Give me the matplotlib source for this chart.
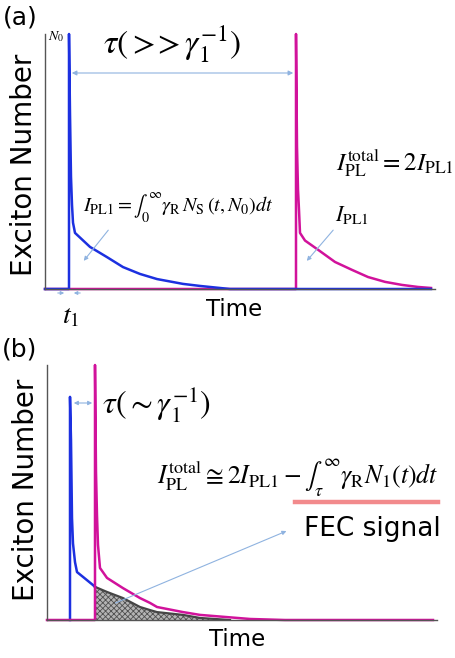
import matplotlib.pyplot as plt
import numpy as np

plt.rcParams["mathtext.fontset"] = "stix"
plt.rcParams["font.family"] = ["DejaVu Sans"]
plt.rcParams["hatch.linewidth"] = 0.6

W, H = 456, 658

# time in arbitrary units (0 = axis origin), exciton number normalised to N0 = 1
t_end = 386

# panel (a): second pulse long after the first one
a_blue_t0 = 24
a_blue_dt = [0, 0, 1, 2, 3, 4, 6, 21, 38, 54, 71, 88, 114, 131, 161]
a_blue_n = [0, 1.0, 0.69, 0.44, 0.33, 0.26, 0.22, 0.165, 0.125, 0.086, 0.059, 0.039, 0.02, 0.012, 0]
a_mag_t0 = 251
a_mag_dt = [0, 0, 1, 2, 3, 4, 9, 22, 39, 56, 72, 89, 106, 122, 135]
a_mag_n = [0, 1.0, 0.56, 0.39, 0.31, 0.22, 0.19, 0.154, 0.106, 0.075, 0.047, 0.028, 0.016, 0.008, 0.004]

# panel (b): second pulse within the exciton lifetime
b_blue_t0 = 23
b_blue_dt = [0, 0, 1, 2, 3, 5, 7, 13, 23, 25]
b_blue_n = [0, 0.875, 0.706, 0.40, 0.30, 0.227, 0.188, 0.169, 0.137, 0.13]
b_tail_dt = [25, 37, 53, 70, 80, 87, 113, 130, 160]
b_tail_n = [0.13, 0.11, 0.086, 0.051, 0.039, 0.031, 0.02, 0.008, 0]
b_mag_t0 = 48
b_mag_dt = [0, 0, 1, 2, 3, 5, 12, 28, 45, 55, 62, 88, 105, 155, 190]
b_mag_n = [0, 1.0, 0.58, 0.41, 0.294, 0.204, 0.165, 0.125, 0.086, 0.067, 0.051, 0.031, 0.02, 0.004, 0]

BLUE = "#1c30e0"
MAGENTA = "#d1129b"
ARROW = "#8fb3e0"


def trace(t0, dt, n, start=0, end=t_end):
    t = [start] + [t0 + d for d in dt] + [end]
    y = [0] + list(n) + [n[-1]]
    return np.array(t, float), np.array(y, float)


def px(x, y):
    return (x, H - y)


def arrow(x0, y0, x1, y1, style="-|>", ms=6):
    fig.add_artist(plt.matplotlib.patches.FancyArrowPatch(
        px(x0, y0), px(x1, y1), transform=None, arrowstyle=style,
        mutation_scale=ms, color=ARROW, lw=0.8))


def label(x, y, s, size, **kw):
    fig.text(x / W, 1 - y / H, s, fontsize=size, va="center", ha="center", **kw)


def setup(ax):
    ax.set_xlim(0, 390)
    ax.set_ylim(0, 1)
    for s in ["top", "right"]:
        ax.spines[s].set_visible(False)
    for s in ["left", "bottom"]:
        ax.spines[s].set_color("#555555")
        ax.spines[s].set_linewidth(1.0)
    ax.set_xticks([])
    ax.set_yticks([])
    ax.patch.set_alpha(0)


fig = plt.figure(figsize=(W / 100, H / 100), dpi=100)

# ---------------- (a)
ax_a = fig.add_axes([45 / W, 1 - 289 / H, 390 / W, 255 / H])
setup(ax_a)
t, y = trace(a_mag_t0, a_mag_dt, a_mag_n)
ax_a.plot(t, y, color=MAGENTA, lw=1.8, clip_on=False)
t, y = trace(a_blue_t0, a_blue_dt, a_blue_n)
ax_a.plot(t, y, color=BLUE, lw=1.8, clip_on=False)
ax_a.plot([a_mag_t0 + a_mag_dt[-1], t_end], [0, 0], color=BLUE, lw=1.8)

label(20, 18, "(a)", 18)
label(56, 37, r"$N_0$", 10)
label(172, 44, r"$\tau(>\!\!>\gamma_1^{-1})$", 24)
label(24, 165, "Exciton Number", 20, rotation=90)
label(234, 309, "Time", 16.5)
label(71, 315, r"$t_1$", 20)
label(178, 208,
      r"$I_{\rm PL1}=\int_0^{\infty}\gamma_{\rm R}\,N_{\rm S}\,(t,N_0)dt$", 14.5)
label(395, 163, r"$I_{\rm PL}^{\rm total}=2I_{\rm PL1}$", 18)
label(352, 215, r"$I_{\rm PL1}$", 16)

arrow(69, 73, 296, 73, style="<|-|>", ms=7)
arrow(110, 228, 82, 263)
arrow(335, 228, 305, 263)
arrow(55, 293, 67, 293, ms=5)
arrow(83, 293, 71, 293, ms=5)

# ---------------- (b)
ax_b = fig.add_axes([47 / W, 1 - 620 / H, 390 / W, 255 / H])
setup(ax_b)
tt = np.array([b_blue_t0 + d for d in b_tail_dt], float)
ax_b.fill_between(tt, b_tail_n, 0, facecolor="#b4b4b4", edgecolor="#505050",
                  hatch="xxxxxx", lw=0)
ax_b.plot(tt, b_tail_n, color="#454545", lw=1.6)
t, y = trace(b_blue_t0, b_blue_dt, b_blue_n)
ax_b.plot(t[1:-1], y[1:-1], color=BLUE, lw=1.8, clip_on=False)
t, y = trace(b_mag_t0, b_mag_dt, b_mag_n)
ax_b.plot(t, y, color=MAGENTA, lw=1.8, clip_on=False)

label(20, 350, "(b)", 18)
label(26, 490, "Exciton Number", 20, rotation=90)
label(237, 639, "Time", 16.5)
label(157, 405, r"$\tau(\sim\gamma_1^{-1})$", 23)
label(298, 478,
      r"$I_{\rm PL}^{\rm total}\cong 2I_{\rm PL1}-\int_{\tau}^{\infty}\gamma_{\rm R}N_1(t)dt$",
      18.5)
label(372, 529, "FEC signal", 19)
fig.add_artist(plt.Line2D([295 / W, 438 / W], [1 - 502 / H, 1 - 502 / H],
                          color="#f28a8c", lw=3.2))

arrow(71, 403, 95, 403, style="<|-|>", ms=6)
arrow(113, 604, 289, 530)

fig.savefig("out.png", dpi=100)
